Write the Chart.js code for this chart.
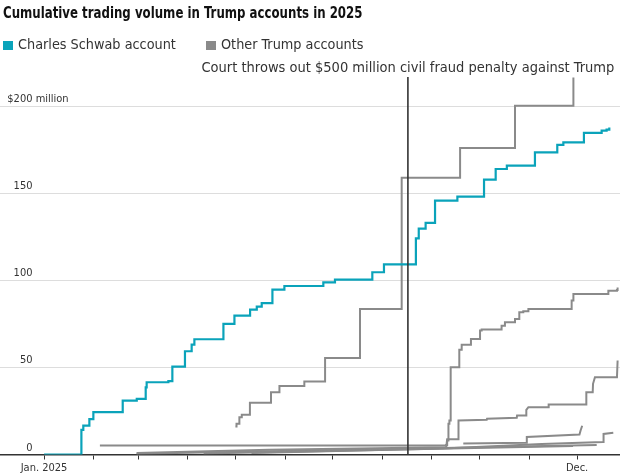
<!DOCTYPE html>
<html>
<head>
<meta charset="utf-8">
<script src="https://cdn.jsdelivr.net/npm/chart.js@4.4.1/dist/chart.umd.min.js"></script>
<style>
html,body{margin:0;padding:0;background:#fff;}
#wrap{position:relative;width:620px;height:474px;overflow:hidden;font-family:'Liberation Sans Narrow','DejaVu Sans Condensed','Liberation Sans',sans-serif;color:#333;}
#title{position:absolute;left:3px;top:6px;font-weight:bold;font-size:15px;line-height:15px;color:#111;white-space:nowrap;transform:scaleX(0.873);transform-origin:0 0;}
.leg{position:absolute;top:37px;font-size:14.3px;line-height:15px;white-space:nowrap;}
.sw{display:inline-block;width:10px;height:9px;margin-right:5px;vertical-align:-1px;}
#c{position:absolute;left:0;top:0;}
</style>
</head>
<body>
<div id="wrap">
<canvas id="c" width="620" height="474"></canvas>
<div id="title">Cumulative trading volume in Trump accounts in 2025</div>
<div class="leg" style="left:3px"><span class="sw" style="background:#0aa3ba"></span>Charles Schwab account</div>
<div class="leg" style="left:206px"><span class="sw" style="background:#8a8a8a"></span>Other Trump accounts</div>
</div>
<script>
const FONT = "'Liberation Sans Narrow','DejaVu Sans Condensed','Liberation Sans',sans-serif";

// x axis: day of year 2025 (0 = Jan 1)
const monthStartDays = [0,31,59,90,120,151,181,212,243,273,304,334];
const monthLabels = ['Jan. 2025','','','','','','','','','','','Dec.'];
const yTickValues = [0,50,100,150,200];
const yTickLabels = ['0','50','100','150','$200'];
const yTickSuffix = ['','','','',' million'];
const courtDay = 228;
const courtText = 'Court throws out $500 million civil fraud penalty against Trump';

// Charles Schwab account (cumulative, $ million) – step points
const schwabDays = [0,23.4,24.6,28.4,30.9,49.3,58.1,63.7,64.3,77.9,80.4,88.3,92.5,94.2,112.4,119.3,129.1,133.3,136.4,143.1,150.6,175,182.3,205.7,213,233,234.8,239.1,245,259,275.7,283,290,307.6,321.6,325.4,338.3,349.4,352.5,354.2];
const schwabValues = [0,14.2,16.6,20.3,24.3,31.0,32.0,38.6,41.5,42.2,50.5,59.3,63.1,66.2,75.0,79.8,83.2,85.0,86.9,94.7,96.8,98.9,100.5,104.7,109.2,124.2,129.7,133.0,145.8,148.1,157.9,164.0,165.9,173.5,177.8,179.3,184.7,186.0,186.6,187.8];

// Other Trump accounts
const otherADays = [119.9,120.6,122.4,123.9,129.0,142.2,147.5,163.1,176.1,198.0,224.1,260.7,295.1,331.7];
const otherAValues = [16.1,17.6,21.4,22.8,29.7,35.8,39.4,41.9,55.5,83.6,159.0,176.1,200.3,216.6];

const otherBDays = [35,252.0,252.6,253.4,254.0,254.8,260.2,261.7,267.5,273.2,274.2,286.7,288.8,295.1,297.8,300.3,303.5,330.6,331.7,353.6,359.0,359.4];
const otherBValues = [5.2,5.4,8.0,17.6,19.5,50.1,60.1,63.0,66.4,71.2,71.8,74.0,75.9,77.9,81.7,82.3,83.6,88.4,92.2,94.1,94.5,96.0];

const otherCDays = [58,141,252,252.6,259.5,259.7,277.4,277.6,296.2,296.4,302.0,302.2,303.5,316.0,316.2,339.6,339.8,343.8,344.0,345.2,359.0,359.4];
const otherCValues = [0.8,2.8,4.2,8.8,8.8,19.5,19.9,20.5,21.1,22.4,22.4,25.6,27.2,27.2,28.7,28.7,35.8,35.8,40.6,44.4,44.4,54.0];

const otherDDays = [262.7,302.2,302.5,335.5,336.2,337.2];
const otherDValues = [6.3,6.8,10.1,11.5,13.8,16.5];

const otherEDays = [130,250,311.8,350.4,350.6,356.7];
const otherEValues = [0.8,3.5,6.0,7.2,11.8,12.5];

const otherFDays = [58,141,250,346.3];
const otherFValues = [0.4,1.8,3.8,5.4];

const otherGDays = [100,200,331.5];
const otherGValues = [0.6,2.4,4.9];

const TEAL = '#0aa3ba';
const GRAY = '#8a8a8a';

function pts(days, vals){ return days.map((d,i)=>({x:d,y:vals[i]})); }

const datasets = [
  {label:'Charles Schwab account', data:pts(schwabDays,schwabValues), borderColor:TEAL, stepped:'before', borderWidth:2.2},
  {label:'Other A', data:pts(otherADays,otherAValues), borderColor:GRAY, stepped:'before'},
  {label:'Other B', data:pts(otherBDays,otherBValues), borderColor:GRAY, stepped:'before'},
  {label:'Other C', data:pts(otherCDays,otherCValues), borderColor:GRAY},
  {label:'Other D', data:pts(otherDDays,otherDValues), borderColor:GRAY},
  {label:'Other E', data:pts(otherEDays,otherEValues), borderColor:GRAY},
  {label:'Other F', data:pts(otherFDays,otherFValues), borderColor:GRAY},
  {label:'Other G', data:pts(otherGDays,otherGValues), borderColor:GRAY}
];

const yLabelPlugin = {
  id:'ylabels',
  afterDraw(chart){
    const ctx = chart.ctx, ys = chart.scales.y;
    ctx.save();
    ctx.font = '11px ' + FONT;
    ctx.fillStyle = '#333';
    ctx.textBaseline = 'alphabetic';
    yTickValues.forEach((v,i)=>{
      const py = ys.getPixelForValue(v) - 4;
      ctx.textAlign = 'right';
      ctx.fillText(yTickLabels[i], 32.5, py);
      if (yTickSuffix[i]) { ctx.textAlign = 'left'; ctx.fillText(yTickSuffix[i], 32.5, py); }
    });
    ctx.restore();
  }
};

const courtPlugin = {
  id:'court',
  afterDatasetsDraw(chart){
    const ctx = chart.ctx, xs = chart.scales.x, area = chart.chartArea;
    const px = xs.getPixelForValue(courtDay);
    ctx.save();
    ctx.strokeStyle = '#333';
    ctx.lineWidth = 1.6;
    ctx.beginPath();
    ctx.moveTo(px, 77);
    ctx.lineTo(px, area.bottom);
    ctx.stroke();
    ctx.font = '14.5px ' + FONT;
    ctx.fillStyle = '#333';
    ctx.textAlign = 'center';
    ctx.textBaseline = 'alphabetic';
    ctx.fillText(courtText, px, 72);
    ctx.restore();
  }
};

new Chart(document.getElementById('c'), {
  type:'line',
  data:{datasets},
  options:{
    responsive:false,
    animation:false,
    layout:{padding:{top:54.1,left:0,right:0,bottom:0}},
    plugins:{legend:{display:false},tooltip:{enabled:false},title:{display:false}},
    elements:{point:{radius:0},line:{borderWidth:2,tension:0,fill:false}},
    scales:{
      x:{
        type:'linear', min:-27.6, max:360.9,
        afterBuildTicks:s=>{ s.ticks = monthStartDays.map(v=>({value:v})); },
        afterFit:s=>{ s.height = 19.5; },
        grid:{drawOnChartArea:false, drawTicks:true, tickLength:5, color:'#333', lineWidth:1},
        border:{display:true, color:'#333', width:1.5},
        ticks:{autoSkip:false, maxRotation:0, minRotation:0, padding:2, color:'#333',
               font:{family:FONT, size:11},
               callback:(v,i)=>monthLabels[i]}
      },
      y:{
        min:0, max:230,
        afterBuildTicks:s=>{ s.ticks = yTickValues.map(v=>({value:v})); },
        afterFit:s=>{ s.width = 0; },
        ticks:{display:false},
        border:{display:false},
        grid:{drawTicks:false, lineWidth:1, color:c=>c.tick && c.tick.value===0 ? 'rgba(0,0,0,0)' : '#dddddd'}
      }
    }
  },
  plugins:[yLabelPlugin, courtPlugin]
});
</script>
</body>
</html>
